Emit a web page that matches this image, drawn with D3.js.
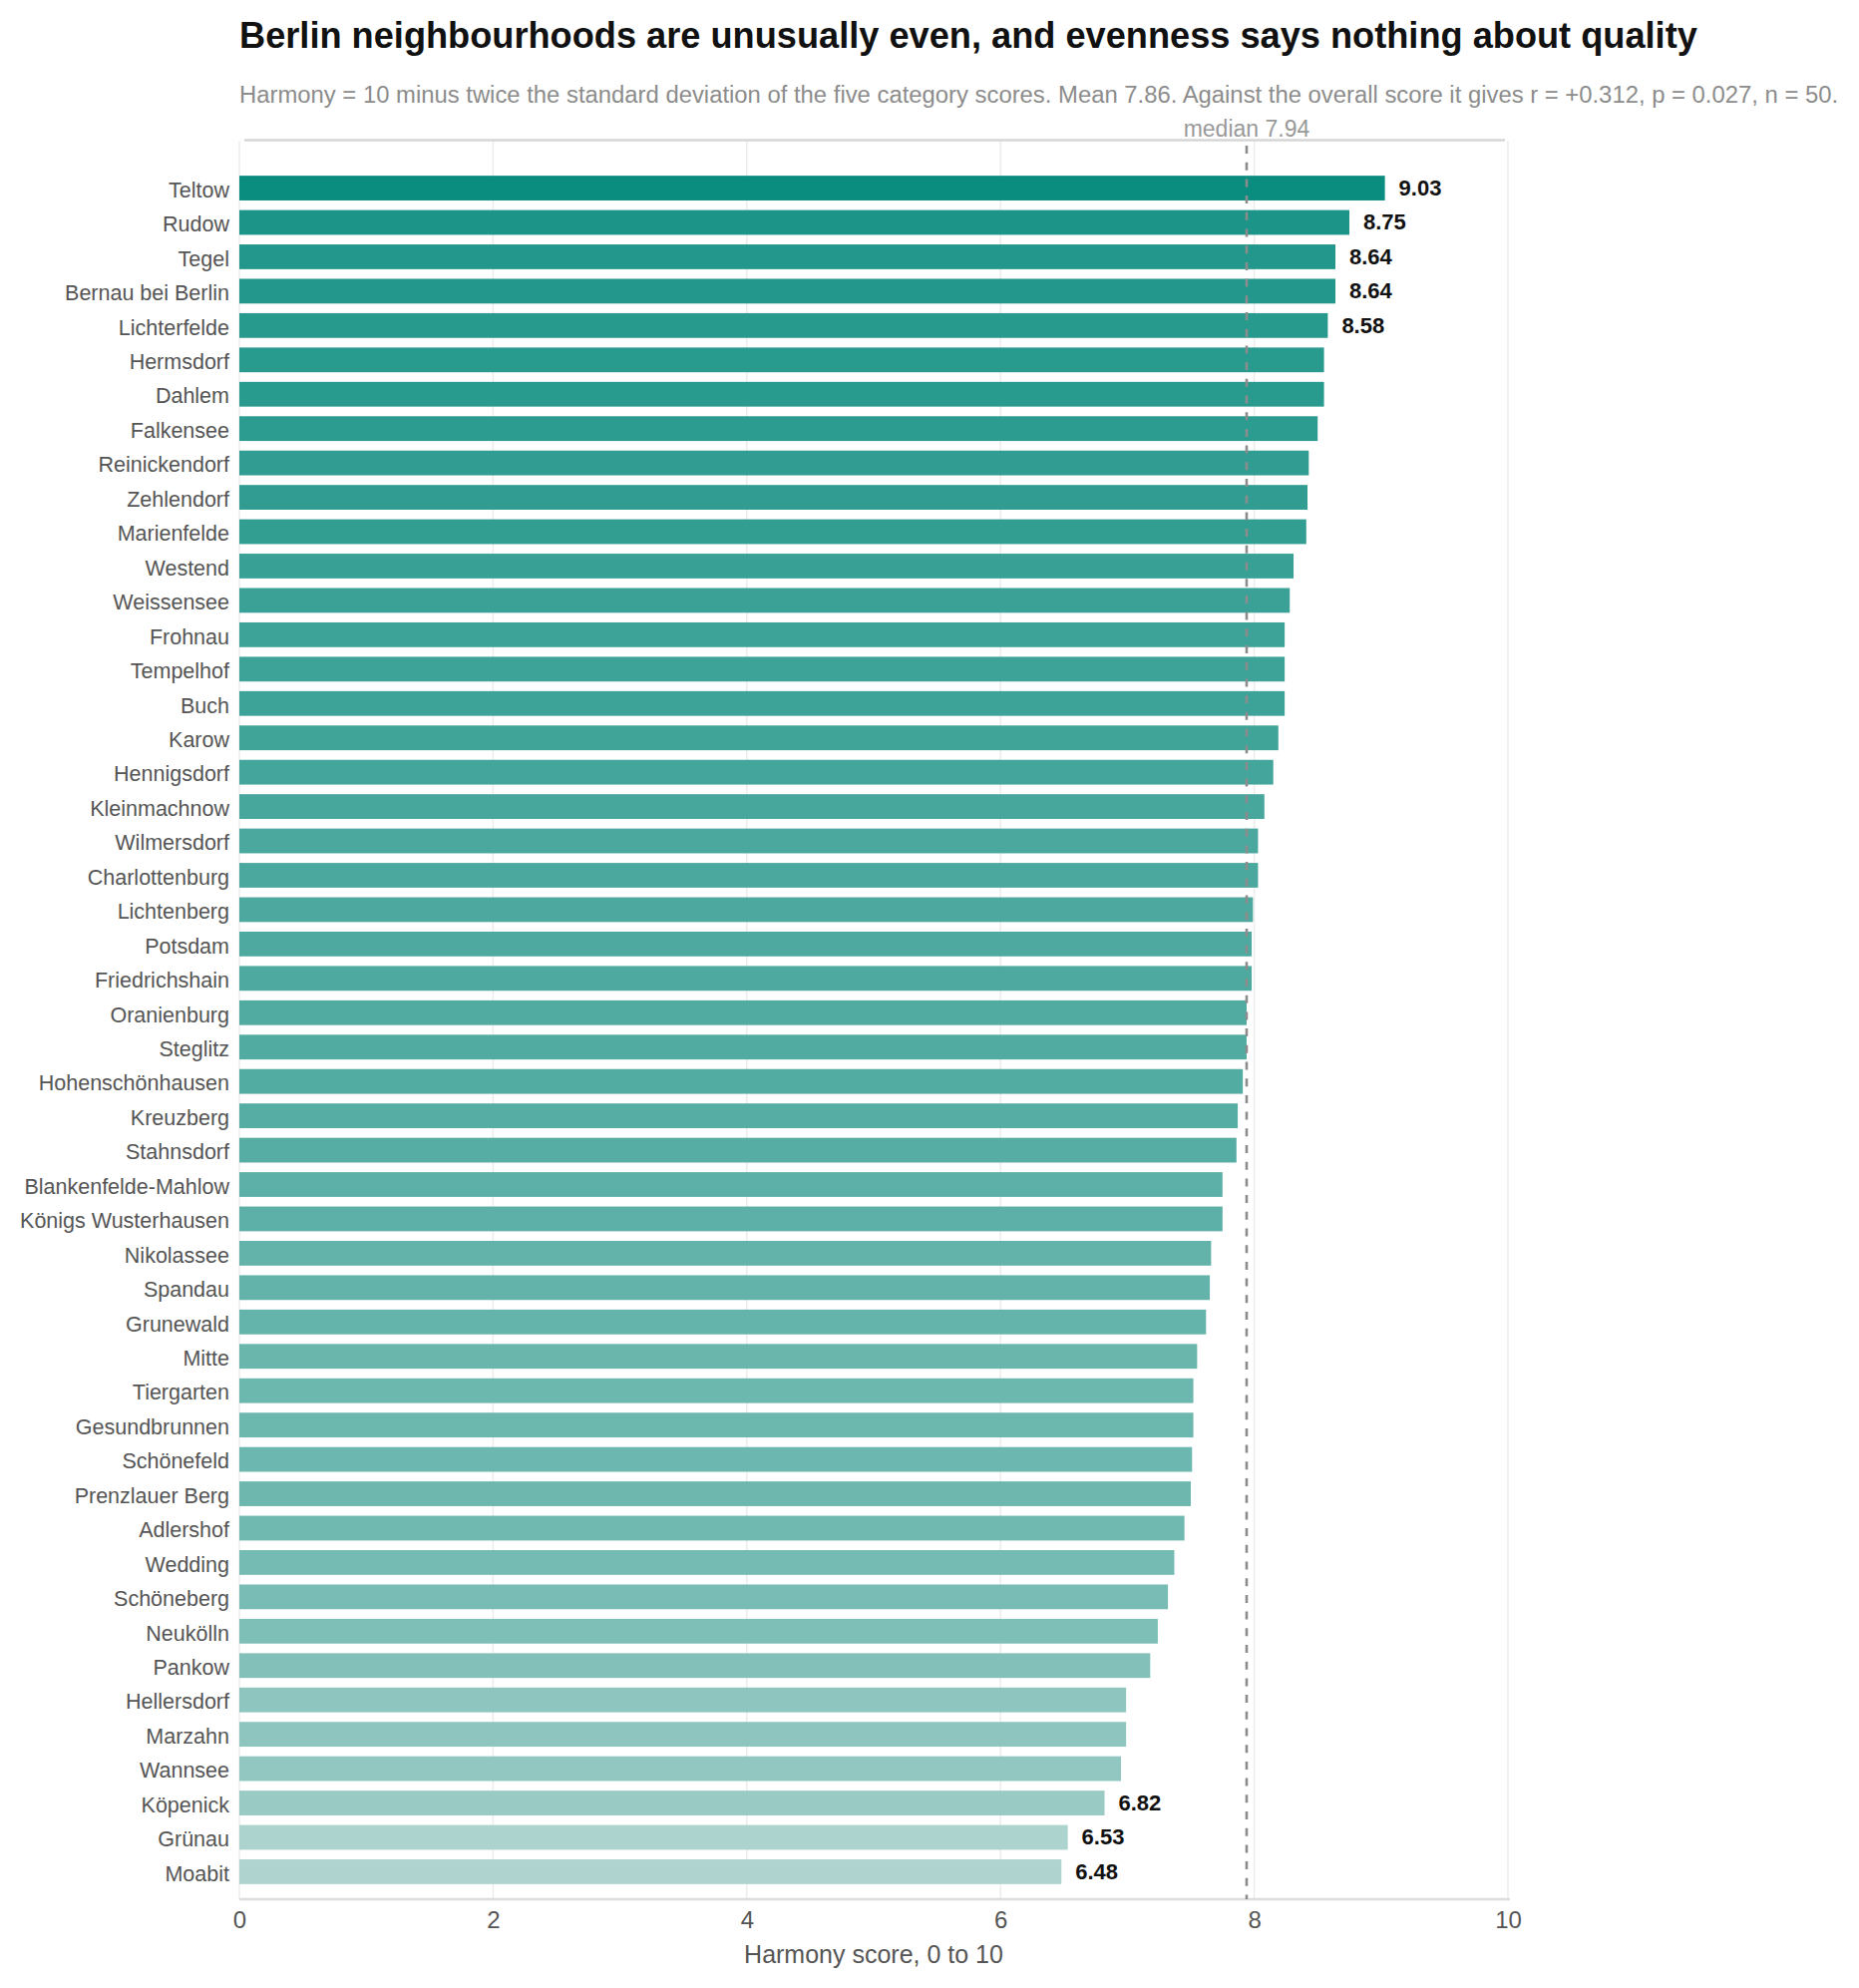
<!DOCTYPE html>
<html>
<head>
<meta charset="utf-8">
<script src="https://cdn.jsdelivr.net/npm/d3@7"></script>
<style>
  html, body { margin: 0; padding: 0; background: #fff; }
  svg { display: block; font-family: "Liberation Sans", Arial, sans-serif; }
</style>
</head>
<body>
<svg id="here"></svg>
<script>
// neighbourhoods, sorted by harmony score (high to low)
const neighbourhoods = [
  "Teltow", "Rudow", "Tegel", "Bernau bei Berlin", "Lichterfelde",
  "Hermsdorf", "Dahlem", "Falkensee", "Reinickendorf", "Zehlendorf",
  "Marienfelde", "Westend", "Weissensee", "Frohnau", "Tempelhof",
  "Buch", "Karow", "Hennigsdorf", "Kleinmachnow", "Wilmersdorf",
  "Charlottenburg", "Lichtenberg", "Potsdam", "Friedrichshain", "Oranienburg",
  "Steglitz", "Hohenschönhausen", "Kreuzberg", "Stahnsdorf", "Blankenfelde-Mahlow",
  "Königs Wusterhausen", "Nikolassee", "Spandau", "Grunewald", "Mitte",
  "Tiergarten", "Gesundbrunnen", "Schönefeld", "Prenzlauer Berg", "Adlershof",
  "Wedding", "Schöneberg", "Neukölln", "Pankow", "Hellersdorf",
  "Marzahn", "Wannsee", "Köpenick", "Grünau", "Moabit"
];
const harmony = [
  9.03, 8.75, 8.64, 8.64, 8.58,
  8.55, 8.55, 8.50, 8.43, 8.42,
  8.41, 8.31, 8.28, 8.24, 8.24,
  8.24, 8.19, 8.15, 8.08, 8.03,
  8.03, 7.99, 7.98, 7.98, 7.94,
  7.94, 7.91, 7.87, 7.86, 7.75,
  7.75, 7.66, 7.65, 7.62, 7.55,
  7.52, 7.52, 7.51, 7.50, 7.45,
  7.37, 7.32, 7.24, 7.18, 6.99,
  6.99, 6.95, 6.82, 6.53, 6.48
];
// only the top five and bottom three get a value label
const labelled = ["Teltow", "Rudow", "Tegel", "Bernau bei Berlin", "Lichterfelde", "Köpenick", "Grünau", "Moabit"];
const xTicks = [0, 2, 4, 6, 8, 10];
const medianValue = 7.94;

const title = "Berlin neighbourhoods are unusually even, and evenness says nothing about quality";
const subtitle = "Harmony = 10 minus twice the standard deviation of the five category scores. Mean 7.86. Against the overall score it gives r = +0.312, p = 0.027, n = 50.";
const xTitle = "Harmony score, 0 to 10";

const data = neighbourhoods.map((name, i) => ({name, value: harmony[i]}));

const width = 1864, height = 1993;
const margin = {top: 141, right: 352, bottom: 89, left: 240};
const plotBottom = height - margin.bottom;

const svg = d3.select("#here").attr("width", width).attr("height", height);

const x = d3.scaleLinear().domain([0, 10]).range([margin.left, width - margin.right]);
const y = d3.scaleBand()
  .domain(neighbourhoods)
  .range([161, plotBottom])
  .paddingInner(0.28)
  .paddingOuter(0.44);

const color = d3.scaleLinear()
  .domain([d3.min(harmony), d3.max(harmony)])
  .range(["#afd4cf", "#0a8c7f"]);

// title and subtitle
svg.append("text")
  .attr("x", margin.left).attr("y", 48)
  .attr("font-size", 36.2).attr("font-weight", "bold").attr("fill", "#111")
  .text(title);
svg.append("text")
  .attr("x", margin.left).attr("y", 102.5)
  .attr("font-size", 23.85).attr("fill", "#8c8c8c")
  .text(subtitle);

// vertical grid
svg.append("g")
  .selectAll("line")
  .data(xTicks)
  .join("line")
  .attr("x1", d => x(d)).attr("x2", d => x(d))
  .attr("y1", margin.top).attr("y2", plotBottom)
  .attr("stroke", "#ececec").attr("stroke-width", 1.5);

// frame lines top and bottom
svg.append("line")
  .attr("x1", x(0) + 5).attr("x2", x(10) - 3)
  .attr("y1", 140.5).attr("y2", 140.5)
  .attr("stroke", "#d6d6d6").attr("stroke-width", 2.5);
svg.append("line")
  .attr("x1", x(0)).attr("x2", x(10) + 2)
  .attr("y1", plotBottom).attr("y2", plotBottom)
  .attr("stroke", "#dcdcdc").attr("stroke-width", 2.5);

// bars
svg.append("g")
  .selectAll("rect")
  .data(data)
  .join("rect")
  .attr("x", x(0))
  .attr("y", d => y(d.name))
  .attr("width", d => x(d.value) - x(0))
  .attr("height", y.bandwidth())
  .attr("fill", d => color(d.value));

// value labels
svg.append("g")
  .selectAll("text")
  .data(data.filter(d => labelled.includes(d.name)))
  .join("text")
  .attr("x", d => x(d.value) + 14)
  .attr("y", d => y(d.name) + y.bandwidth() / 2)
  .attr("dy", "0.33em")
  .attr("font-size", 22).attr("font-weight", "bold").attr("fill", "#111")
  .text(d => d.value.toFixed(2));

// median
svg.append("line")
  .attr("x1", x(medianValue)).attr("x2", x(medianValue))
  .attr("y1", 146).attr("y2", plotBottom)
  .attr("stroke", "#8c8c8c").attr("stroke-width", 2.6)
  .attr("stroke-dasharray", "8,8.7");
svg.append("text")
  .attr("x", x(medianValue)).attr("y", 137)
  .attr("text-anchor", "middle")
  .attr("font-size", 23).attr("fill", "#999")
  .text("median " + medianValue.toFixed(2));

// y axis
const yAxis = svg.append("g")
  .attr("transform", `translate(${margin.left},0)`)
  .call(d3.axisLeft(y).tickSize(0).tickPadding(10));
yAxis.select(".domain").remove();
yAxis.selectAll("text")
  .attr("dy", "0.43em")
  .attr("font-size", 21.5).attr("fill", "#555")
  .attr("font-family", "Liberation Sans, Arial, sans-serif");

// x axis
const xAxis = svg.append("g")
  .attr("transform", `translate(0,${plotBottom})`)
  .call(d3.axisBottom(x).tickValues(xTicks).tickSize(0).tickPadding(12));
xAxis.select(".domain").remove();
xAxis.selectAll("text")
  .attr("font-size", 24).attr("fill", "#555")
  .attr("font-family", "Liberation Sans, Arial, sans-serif");

svg.append("text")
  .attr("x", (x(0) + x(10)) / 2).attr("y", 1968)
  .attr("text-anchor", "middle")
  .attr("font-size", 25).attr("fill", "#555")
  .text(xTitle);
</script>
</body>
</html>
